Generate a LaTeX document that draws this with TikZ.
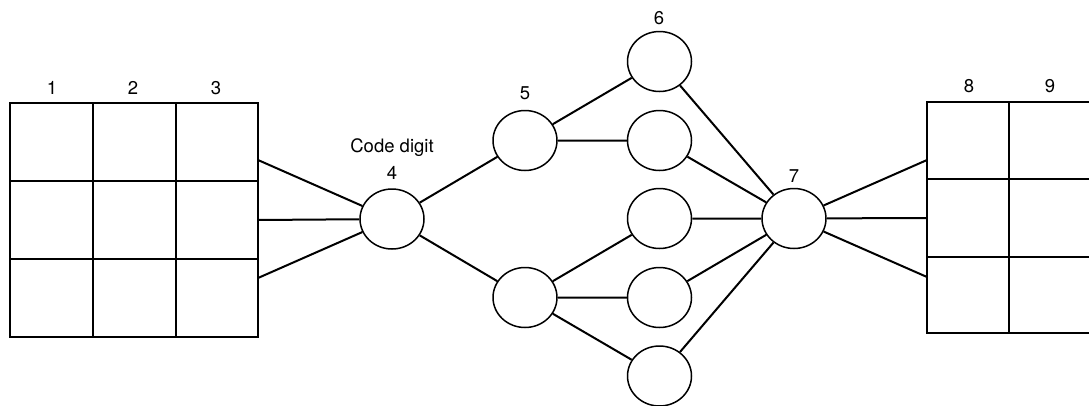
\documentclass[tikz,border=0pt]{standalone}
\usepackage{fontspec}
\setmainfont{TeX Gyre Heros}
\usetikzlibrary{shapes.geometric}
\begin{document}
\begin{tikzpicture}[x=1pt,y=-1pt,
  cell/.style={ellipse,draw,line width=1.5pt,minimum width=64pt,minimum height=60pt,inner sep=0pt},
  conn/.style={line width=2pt},
  gridline/.style={line width=2pt},
  lbl/.style={font=\fontsize{18.5}{20}\selectfont,inner sep=0pt}]
\useasboundingbox (0,0) rectangle (1089,405);
% left grid
\draw[gridline] (10,103) rectangle (258,337);
\draw[gridline] (93,103) -- (93,337) (176,103) -- (176,337)
  (10,181) -- (258,181) (10,259) -- (258,259);
% right grid
\draw[gridline] (1092,102) -- (927,102) -- (927,333) -- (1092,333);
\draw[gridline] (1009,102) -- (1009,333) (927,179) -- (1092,179) (927,257) -- (1092,257);
% labels
\node[lbl] (t1) at (52,88) {1};
\node[lbl] (t2) at (133,88) {2};
\node[lbl] (t3) at (216,88) {3};
\node[lbl] (t8) at (969,86) {8};
\node[lbl] (t9) at (1050,86) {9};
\node[lbl] (tcd) at (392,148) {Code digit};
\node[lbl] (t4) at (392,173) {4};
\node[lbl] (t5) at (525,93) {5};
\node[lbl] (t6) at (659,18) {6};
\node[lbl] (t7) at (794,176) {7};
% nodes
\node[cell] (n4) at (392,219) {};
\node[cell] (n5a) at (525,140.5) {};
\node[cell] (n5b) at (525,297.5) {};
\node[cell] (c1) at (659.5,61.5) {};
\node[cell] (c2) at (659.5,140.5) {};
\node[cell] (c3) at (659.5,218.5) {};
\node[cell] (c4) at (659.5,297.5) {};
\node[cell] (c5) at (659.5,376) {};
\node[cell] (n7) at (794,218.5) {};
% grid attachment points
\coordinate (L1) at (258,160);
\coordinate (L2) at (258,220);
\coordinate (L3) at (258,278);
\coordinate (R1) at (927,160);
\coordinate (R2) at (927,218);
\coordinate (R3) at (927,277);
% connectors
\draw[conn] (L1) -- (n4) (L2) -- (n4) (L3) -- (n4);
\draw[conn] (n4) -- (n5a) (n4) -- (n5b);
\draw[conn] (n5a) -- (c1) (n5a) -- (c2);
\draw[conn] (n5b) -- (c3) (n5b) -- (c4) (n5b) -- (c5);
\draw[conn] (c1) -- (n7) (c2) -- (n7) (c3) -- (n7) (c4) -- (n7) (c5) -- (n7);
\draw[conn] (n7) -- (R1) (n7) -- (R2) (n7) -- (R3);
\end{tikzpicture}
\end{document}
